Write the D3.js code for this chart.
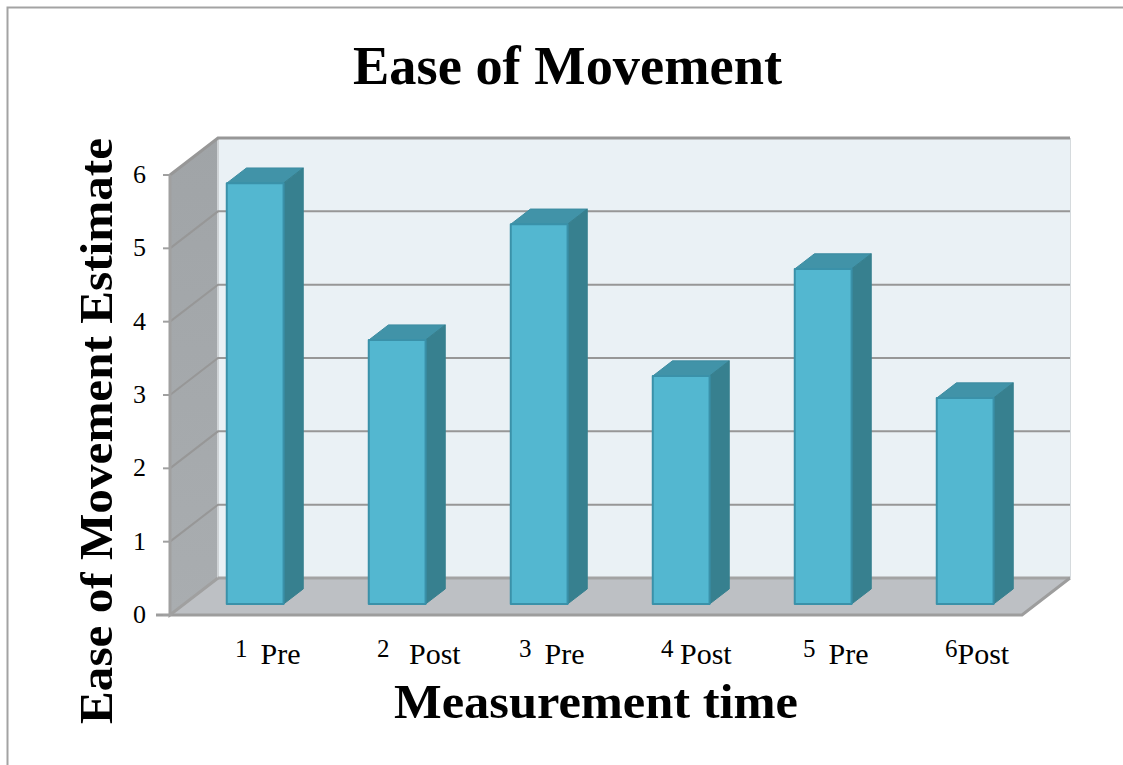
<!DOCTYPE html>
<html><head><meta charset="utf-8">
<script src="https://d3js.org/d3.v7.min.js"></script>
<style>html,body{margin:0;padding:0;background:#fff}svg{display:block}</style></head>
<body><div id="c"></div>
<script>
const titleText = "Ease of Movement";
const xTitle = "Measurement time";
const yTitle = "Ease of Movement Estimate";
const categoryNumbers = ["1","2","3","4","5","6"];
const categoryWords = ["  Pre","   Post","  Pre"," Post","  Pre","Post"];
const values = [5.74,3.6,5.18,3.11,4.57,2.81];
const yTicks = [0,1,2,3,4,5,6];

const W=1123,H=765;
const FONT="'Liberation Serif',serif";
const depth={dx:48,dy:-37};       // full floor depth
const barPlane=0.295;             // bar front plane, share of depth
const barDepth=0.41;              // bar depth, share of depth
const x=d3.scaleBand().domain(categoryNumbers).range([170,1022]).paddingInner(0.6).paddingOuter(0.3);
const band=d3.scaleBand().domain(categoryNumbers).range([170,1022]);
const y=d3.scaleLinear().domain([0,6]).range([615,175]);
const svg=d3.select("#c").append("svg").attr("width",W).attr("height",H);
const poly=(pts,fill,stroke,sw)=>svg.append("polygon").attr("points",pts.map(p=>p.join(",")).join(" "))
  .attr("fill",fill).attr("stroke",stroke||"none").attr("stroke-width",sw||0).attr("stroke-linejoin","round");

// page frame
svg.append("path").attr("d","M7.5,765V7.5H1123").attr("fill","none").attr("stroke","#a3a3a3").attr("stroke-width",2);

const x0=170,x1=1022,yB=y(0),yT=y(6),dx=depth.dx,dy=depth.dy;
const backGrad=svg.append("defs").append("linearGradient").attr("id","wall").attr("x1",0).attr("x2",0).attr("y1",0).attr("y2",1);
backGrad.append("stop").attr("offset",0).attr("stop-color","#a0a4a7");
backGrad.append("stop").attr("offset",1).attr("stop-color","#a9adb0");

// back wall
poly([[x0+dx,yT+dy],[x1+dx,yT+dy],[x1+dx,yB+dy],[x0+dx,yB+dy]],"#eaf1f5");
svg.append("line").attr("x1",x1+dx+.5).attr("x2",x1+dx+.5).attr("y1",yT+dy).attr("y2",yB+dy).attr("stroke","#d5dadd").attr("stroke-width",1);
// side wall
poly([[x0,yT],[x0+dx,yT+dy],[x0+dx,yB+dy],[x0,yB]],"url(#wall)");
svg.append("line").attr("x1",x0+dx).attr("x2",x0+dx).attr("y1",yT+dy).attr("y2",yB+dy).attr("stroke","#cfd3d6").attr("stroke-width",2);
// floor
poly([[x0,yB],[x0+dx,yB+dy],[x1+dx,yB+dy],[x1,yB]],"#bdc0c4");

// gridlines
yTicks.forEach(t=>{
  const g=svg.append("path").attr("fill","none").attr("stroke",t===0?"#a3a3a3":"#979797")
    .attr("stroke-width",t===6||t===0?3:2);
  g.attr("d",t===0?`M${x0+dx},${y(t)+dy}H${x1+dx}`:`M${x0},${y(t)}L${x0+dx},${y(t)+dy}H${x1+dx}`);
});
// floor edges and axes
svg.append("path").attr("d",`M${x0-14},${yB}H${x1}L${x1+dx},${yB+dy}`).attr("fill","none").attr("stroke","#9d9d9d").attr("stroke-width",3);
svg.append("path").attr("d",`M${x0},${yT}V${yB}L${x0+dx},${yB+dy}`).attr("fill","none").attr("stroke","#a0a0a0").attr("stroke-width",3);
yTicks.forEach(t=>svg.append("line").attr("x1",x0-7).attr("x2",x0).attr("y1",y(t)).attr("y2",y(t)).attr("stroke","#a0a0a0").attr("stroke-width",2));

// bars
const pdx=dx*barPlane,pdy=dy*barPlane,bdx=dx*barDepth,bdy=dy*barDepth;
const rows=categoryNumbers.map((c,i)=>({c,v:values[i]}));
rows.forEach(d=>{
  const l=x(d.c)+pdx,r=l+x.bandwidth(),b=y(0)+pdy,t=y(d.v)+pdy;
  poly([[l,t],[l+bdx,t+bdy],[r+bdx,t+bdy],[r,t]],"#4193a8","#3d8ca1",1);
  poly([[r,t],[r+bdx,t+bdy],[r+bdx,b+bdy],[r,b]],"#37808f","#37808f",1);
  poly([[l,t],[r,t],[r,b],[l,b]],"#53b7d0","#3a91a9",2);
});

// y tick labels
svg.selectAll("text.yt").data(yTicks).join("text").attr("class","yt")
  .attr("x",146).attr("y",d=>y(d)+8).attr("text-anchor","end")
  .attr("font-family",FONT).attr("font-size",26).attr("fill","#000").text(d=>d);

// x labels: leading spaces in a word set its gap from the number
rows.forEach((d,i)=>{
  const word=categoryWords[i], gap=(word.length-word.trimStart().length)*6.5;
  const t=svg.append("text").attr("x",band(d.c)+band.bandwidth()/2-6).attr("y",664)
    .attr("font-family",FONT).attr("font-size",30).attr("fill","#000");
  t.append("tspan").attr("dy",-7).attr("font-size",25).text(categoryNumbers[i]);
  t.append("tspan").attr("dy",7).attr("dx",gap).text(word.trimStart());
});

// titles
svg.append("text").attr("x",567.5).attr("y",84).attr("text-anchor","middle").attr("font-family",FONT)
  .attr("font-weight","bold").attr("font-size",54).attr("textLength",429).attr("lengthAdjust","spacingAndGlyphs").text(titleText);
svg.append("text").attr("x",596).attr("y",718).attr("text-anchor","middle").attr("font-family",FONT)
  .attr("font-weight","bold").attr("font-size",49).attr("textLength",404).attr("lengthAdjust","spacingAndGlyphs").text(xTitle);
svg.append("text").attr("transform","translate(112,431) rotate(-90)").attr("text-anchor","middle").attr("font-family",FONT)
  .attr("font-weight","bold").attr("font-size",47).attr("textLength",586).attr("lengthAdjust","spacingAndGlyphs").text(yTitle);
</script></body></html>
